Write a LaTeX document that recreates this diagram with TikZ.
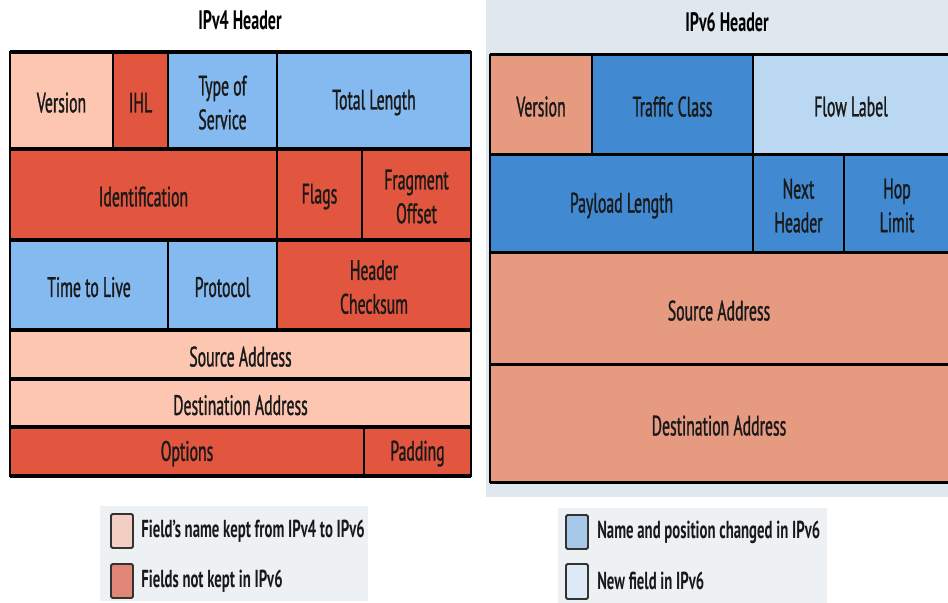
\documentclass[tikz,border=0pt]{standalone}
\usepackage{fontspec}
\setmainfont{PT Sans}[FakeStretch=0.6]
\newfontfamily\cellfont{PT Sans}[FakeStretch=0.56, FakeBold=1]
\definecolor{vfourpink}{HTML}{FDC6B1}
\definecolor{vfourred}{HTML}{E2553E}
\definecolor{vfourblue}{HTML}{85BAF0}
\definecolor{vsixsalmon}{HTML}{E69A80}
\definecolor{vsixblue}{HTML}{4189D0}
\definecolor{vsixpale}{HTML}{BBD8F2}
\definecolor{panelbg}{HTML}{DFE7EF}
\definecolor{legendbg}{HTML}{EEF1F4}
\definecolor{keptsw}{HTML}{F3CFC3}
\definecolor{droppedsw}{HTML}{DF8677}
\definecolor{changedsw}{HTML}{A6C9EA}
\definecolor{newsw}{HTML}{DDE9F6}
\tikzset{
  cell/.style={draw=black, line width=0.9pt},
  celltext/.style={align=center, text=black!90, inner sep=0pt, yshift=-1.5pt,
    font=\cellfont\fontsize{20}{24}\selectfont},
  rowline/.style={line width=2.8pt},
  swatch/.style={draw=black!80, line width=1.4pt, rounded corners=1pt},
  legendtext/.style={anchor=west, inner sep=0pt, text=black!90,
    font=\bfseries\fontsize{17.5}{19}\selectfont},
  headtitle/.style={inner sep=0pt, font=\bfseries\fontsize{19}{21}\selectfont}
}
% one field: name, x1, y1, x2, y2, fill, text
\newcommand{\fld}[7]{%
  \draw[cell, fill=#6] (#2,#3) rectangle (#4,#5);
  \node[celltext] (#1) at ({(#2+#4)/2},{(#3+#5)/2}) {#7};}
\begin{document}
\begin{tikzpicture}[x=0.025cm, y=-0.025cm]
	\useasboundingbox (0,0) rectangle (948,603);
	% backgrounds
	\fill[panelbg] (486,0) rectangle (948,497);
	\fill[legendbg] (100,506) rectangle (368,601);
	\fill[legendbg] (558,508) rectangle (827,603);
	
	% 1. IPv4 header
	\node[headtitle] (vfourtitle) at (240,20) {IPv4 Header};
	\fld{vfver}{10}{52}{113}{149}{vfourpink}{Version}
	\fld{vfihl}{113}{52}{168}{149}{vfourred}{IHL}
	\fld{vftos}{168}{52}{277}{149}{vfourblue}{Type of\\Service}
	\fld{vflen}{277}{52}{471}{149}{vfourblue}{Total Length}
	\fld{vfid}{10}{149}{277}{240}{vfourred}{Identification}
	\fld{vfflags}{277}{149}{362}{240}{vfourred}{Flags}
	\fld{vffrag}{362}{149}{471}{240}{vfourred}{Fragment\\Offset}
	\fld{vfttl}{10}{240}{168}{330}{vfourblue}{Time to Live}
	\fld{vfproto}{168}{240}{277}{330}{vfourblue}{Protocol}
	\fld{vfcheck}{277}{240}{471}{330}{vfourred}{Header\\Checksum}
	\fld{vfsrc}{10}{330}{471}{379}{vfourpink}{Source Address}
	\fld{vfdst}{10}{379}{471}{427}{vfourpink}{Destination Address}
	\fld{vfopt}{10}{427}{364}{476}{vfourred}{Options}
	\fld{vfpad}{364}{427}{471}{476}{vfourred}{Padding}
	% thick row lines
	\foreach \y in {52,149,240,330,379,427,476}
		\draw[rowline] (10,\y) -- (471,\y);
	
	% 2. IPv6 header (runs off the right edge)
	\node[headtitle] (vsixtitle) at (727,22) {IPv6 Header};
	\begin{scope}
		\clip (486,0) rectangle (948,603);
		\fld{vsver}{490}{54.5}{592}{154.5}{vsixsalmon}{Version}
		\fld{vstc}{592}{54.5}{753}{154.5}{vsixblue}{Traffic Class}
		\fld{vsflow}{753}{54.5}{952}{154.5}{vsixpale}{}
		\fld{vspay}{490}{154.5}{753}{252.5}{vsixblue}{Payload Length}
		\fld{vsnext}{753}{154.5}{844}{252.5}{vsixblue}{Next\\Header}
		\fld{vshop}{844}{154.5}{952}{252.5}{vsixblue}{}
		\fld{vssrc}{490}{252.5}{952}{364.5}{vsixsalmon}{}
		\fld{vsdst}{490}{364.5}{952}{482.5}{vsixsalmon}{}
		\foreach \y in {54.5,154.5,252.5,364.5,482.5}
			\draw[rowline] (490,\y) -- (952,\y);
	\end{scope}
	\node[celltext] (vsflowtext) at (851,104.5) {Flow Label};
	\node[celltext] (vshoptext) at (897,203.5) {Hop\\Limit};
	\node[celltext] (vssrctext) at (719,308.5) {Source Address};
	\node[celltext] (vsdsttext) at (719,423.5) {Destination Address};
	
	% 3. Legend
	\draw[swatch, fill=keptsw] (111,514) rectangle (133,548);
	\node[legendtext] (lgkept) at (141,531) {Field’s name kept from IPv4 to IPv6};
	\draw[swatch, fill=droppedsw] (111,564) rectangle (133,598);
	\node[legendtext] (lgdropped) at (141,581) {Fields not kept in IPv6};
	\draw[swatch, fill=changedsw] (566,515) rectangle (588,549);
	\node[legendtext] (lgchanged) at (597,532) {Name and position changed in IPv6};
	\draw[swatch, fill=newsw] (566,564) rectangle (588,599);
	\node[legendtext] (lgnew) at (597,581) {New field in IPv6};
\end{tikzpicture}
\end{document}
